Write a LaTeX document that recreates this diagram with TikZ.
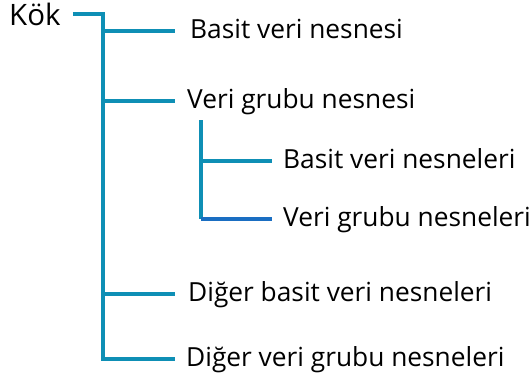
\documentclass[tikz,border=0pt]{standalone}
\usepackage{fontspec}
\setmainfont{Open Sans}
\usetikzlibrary{calc}
\definecolor{dal}{HTML}{0E8FB5}
\definecolor{dalkoyu}{HTML}{1A6EC2}

\begin{document}
\begin{tikzpicture}[x=1pt, y=-1pt,
    item/.style={anchor=base west, inner sep=0pt, font=\fontsize{26.3}{31}\selectfont},
    branch/.style={draw=dal, line width=3.2pt}]
	\useasboundingbox (0,0) rectangle (532,383);

	\node[item, font=\fontsize{29.5}{35}\selectfont] (root) at (9,25) {Kök};
	\node[item] (basit) at (190,38) {Basit veri nesnesi};
	\node[item] (grup) at (187,108) {Veri grubu nesnesi};
	\node[item] (altbasit) at (283,168) {Basit veri nesneleri};
	\node[item] (altgrup) at (283,226) {Veri grubu nesneleri};
	\node[item] (digerbasit) at (188,301) {Diğer basit veri nesneleri};
	\node[item] (digergrup) at (186,366) {Diğer veri grubu nesneleri};

	\coordinate (kolA) at (103,14);
	\coordinate (kolB) at (201,120);
	\coordinate (ukok) at ($(root.base east)+(12,-11)$);
	\coordinate (ubasit) at ($(basit.base west)+(-15,-7)$);
	\coordinate (ugrup) at ($(grup.base west)+(-12,-7)$);
	\coordinate (ualtbasit) at ($(altbasit.base west)+(-11,-7)$);
	\coordinate (ualtgrup) at ($(altgrup.base west)+(-11,-7)$);
	\coordinate (udigerbasit) at ($(digerbasit.base west)+(-13,-7)$);
	\coordinate (udigergrup) at ($(digergrup.base west)+(-11,-7)$);

	% ana kol
	\draw[branch] (ukok) -- (kolA) -- (kolA |- udigergrup) -- (udigergrup);
	\draw[branch] (kolA |- ubasit) -- (ubasit);
	\draw[branch] (kolA |- ugrup) -- (ugrup);
	\draw[branch] (kolA |- udigerbasit) -- (udigerbasit);

	% alt kol
	\draw[branch] (kolB) -- (kolB |- ualtgrup);
	\draw[branch] (kolB |- ualtbasit) -- (ualtbasit);
	\draw[branch, draw=dalkoyu] (kolB |- ualtgrup) -- (ualtgrup);
\end{tikzpicture}
\end{document}
